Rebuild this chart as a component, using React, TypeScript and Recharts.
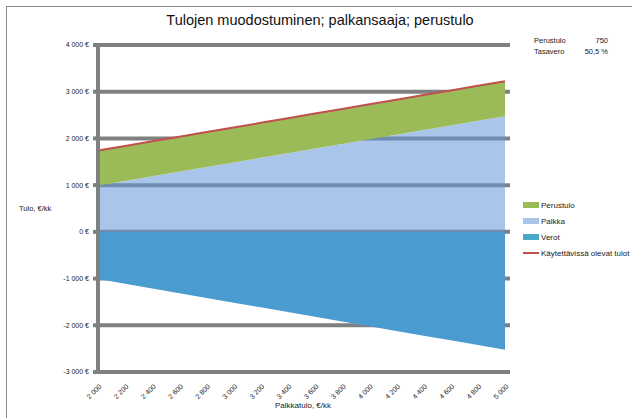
import React from "react";
import { Area, CartesianGrid, ComposedChart, Line, XAxis, YAxis } from "recharts";

const palkkatulo = [2000, 2200, 2400, 2600, 2800, 3000, 3200, 3400, 3600, 3800, 4000, 4200, 4400, 4600, 4800, 5000];
const palkka = [990, 1089, 1188, 1287, 1386, 1485, 1584, 1683, 1782, 1881, 1980, 2079, 2178, 2277, 2376, 2475];
const perustulo = [750, 750, 750, 750, 750, 750, 750, 750, 750, 750, 750, 750, 750, 750, 750, 750];
const verot = [-1010, -1111, -1212, -1313, -1414, -1515, -1616, -1717, -1818, -1919, -2020, -2121, -2222, -2323, -2424, -2525];
const kaytettavissa = [1740, 1839, 1938, 2037, 2136, 2235, 2334, 2433, 2532, 2631, 2730, 2829, 2928, 3027, 3126, 3225];
const yTicks = [-3000, -2000, -1000, 0, 1000, 2000, 3000, 4000];

const legendItems = [
  { name: "Perustulo", color: "#9bbb59", kind: "rect" },
  { name: "Palkka", color: "#a9c4ea", kind: "rect" },
  { name: "Verot", color: "#4aa8c8", kind: "rect" },
  { name: "Käytettävissä olevat tulot", color: "#c0504d", kind: "line" },
];

const infoRows = [
  { label: "Perustulo", value: "750" },
  { label: "Tasavero", value: "50,5 %" },
];

const FONT = "'Liberation Sans', Arial, sans-serif";

const fmt = (v: number) => {
  const s = Math.abs(v).toString().replace(/\B(?=(\d{3})+(?!\d))/g, " ");
  return (v < 0 ? "-" : "") + s + " €";
};

const data = palkkatulo.map((p, i) => ({
  label: fmt(p).replace(" €", ""),
  palkka: palkka[i],
  perustulo: perustulo[i],
  verot: verot[i],
  kaytettavissa: kaytettavissa[i],
}));

function XTick({ x, y, payload }: any) {
  return (
    <text
      transform={`translate(${x + 4},${y + 7}) rotate(-45)`}
      textAnchor="end"
      fontSize={7}
      fontFamily={FONT}
      fill="#222"
    >
      {payload.value}
    </text>
  );
}

function LegendBox() {
  return (
    <div style={{ position: "absolute", left: 523, top: 197, fontSize: 8, color: "#222" }}>
      {legendItems.map((it) => (
        <div key={it.name} style={{ display: "flex", alignItems: "center", height: 16 }}>
          <span
            style={{
              display: "inline-block",
              width: 16,
              height: it.kind === "rect" ? 6 : 2,
              background: it.color,
              marginRight: 2,
            }}
          />
          <span>{it.name}</span>
        </div>
      ))}
    </div>
  );
}

export default function App() {
  return (
    <div style={{ position: "absolute", left: 0, top: 0, width: 632, height: 418, background: "#fff", fontFamily: FONT, overflow: "hidden" }}>
      <div style={{ position: "absolute", left: 6, top: 6, width: 640, height: 420, borderTop: "1.5px solid #8a8a8a", borderLeft: "1.5px solid #8a8a8a" }} />
      <div style={{ position: "absolute", left: 0, width: 640, top: 12, textAlign: "center", fontSize: 14.5, color: "#111" }}>
        Tulojen muodostuminen; palkansaaja; perustulo
      </div>
      <div style={{ position: "absolute", left: 534, top: 35, width: 74, fontSize: 7.5, color: "#222", lineHeight: "11px" }}>
        {infoRows.map((r) => (
          <div key={r.label} style={{ display: "flex", justifyContent: "space-between" }}>
            <span>{r.label}</span>
            <span>{r.value}</span>
          </div>
        ))}
      </div>
      <div style={{ position: "absolute", left: 19, top: 204, fontSize: 7.5, color: "#222" }}>Tulo, €/kk</div>
      <div style={{ position: "absolute", left: 98, width: 410, top: 401, textAlign: "center", fontSize: 8, color: "#222" }}>
        Palkkatulo, €/kk
      </div>
      <LegendBox />
      <ComposedChart
        width={632}
        height={418}
        data={data}
        stackOffset="sign"
        margin={{ top: 45, right: 122, left: 0, bottom: 6 }}
        style={{ position: "absolute", left: 0, top: 0 }}
      >
        <CartesianGrid vertical={false} stroke="#808080" strokeWidth={4} />
        <XAxis
          dataKey="label"
          interval={0}
          padding={{ left: 0, right: 5 }}
          tick={<XTick />}
          tickLine={false}
          axisLine={{ stroke: "#808080", strokeWidth: 4 }}
          height={40}
        />
        <YAxis
          domain={[-3000, 4000]}
          ticks={yTicks}
          tickFormatter={fmt}
          width={98}
          tickSize={5}
          tickMargin={4}
          tick={{ fontSize: 7, fill: "#222", fontFamily: FONT }}
          tickLine={{ stroke: "#808080", strokeWidth: 4 }}
          axisLine={{ stroke: "#808080", strokeWidth: 4 }}
        />
        <Area dataKey="palkka" name="Palkka" stackId="a" type="linear" fill="#6595d8" fillOpacity={0.55} stroke="none" isAnimationActive={false} />
        <Area dataKey="perustulo" name="Perustulo" stackId="a" type="linear" fill="#9bbb59" fillOpacity={1} stroke="none" isAnimationActive={false} />
        <Area dataKey="verot" name="Verot" stackId="a" type="linear" fill="#4a9bd0" fillOpacity={1} stroke="none" isAnimationActive={false} />
        <Line dataKey="kaytettavissa" name="Käytettävissä olevat tulot" type="linear" stroke="#c0504d" strokeWidth={2} dot={false} isAnimationActive={false} />
      </ComposedChart>
    </div>
  );
}
